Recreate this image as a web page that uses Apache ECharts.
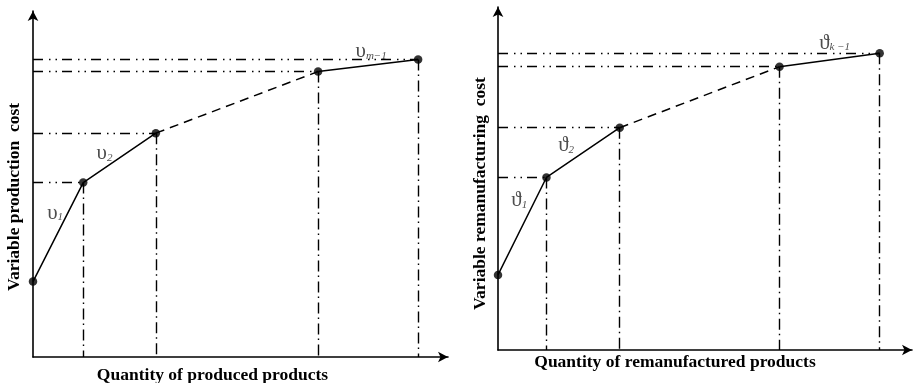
<!DOCTYPE html>
<html>
<head>
<meta charset="utf-8">
<script src="https://cdn.jsdelivr.net/npm/echarts@6/dist/echarts.min.js"></script>
<style>html,body{margin:0;padding:0;background:#fff;}#c{width:914px;height:383px;}</style>
</head>
<body>
<div id="c"></div>
<script>
// Breakpoints of the piecewise-linear cost curves (axis units 0-100)
const xProduced = [0, 12.1, 29.6, 68.7, 92.8];
const yProductionCost = [21.8, 50.4, 64.7, 82.5, 86.0];
const xRemanufactured = [0, 11.7, 29.4, 68.0, 92.2];
const yRemanufacturingCost = [21.9, 50.3, 64.8, 82.6, 86.5];
const xTitles = ['Quantity of produced products', 'Quantity of remanufactured products'];
const yTitles = ['Variable production  cost', 'Variable remanufacturing  cost'];
// slope labels: segment index -> rich text
const slopeSegmentsLeft = [0, 1, 3];
const slopeTextLeft = ['{v|υ}{s|1}', '{v|υ}{s|2}', '{v|υ}{s|m−1}'];
const slopeSegmentsRight = [0, 1, 3];
const slopeTextRight = ['{v|ϑ}{s|1}', '{v|ϑ}{s|2}', '{v|ϑ}{s|k −1}'];

const SERIF = '"Liberation Serif","DejaVu Serif",serif';
const grids = [
  {left: 33, top: 11, width: 415, height: 346, outerBoundsMode: 'none', containLabel: false},
  {left: 498, top: 7, width: 414, height: 343, outerBoundsMode: 'none', containLabel: false}
];
const labelOffsets = [
  [[-3, -19], [-15, -4], [3, -14]],
  [[-3, -26], [-17, -7], [5, -17]]
];
const yNamePad = [[0, 26, 0, 0], [0, 30, 0, 0]];
const xNamePad = [[0, 56, 0, 0], [0, 60, 0, 0]];
const xNameGap = [9, 3];
const yNameGap = [10, 9];

const panels = [
  {xs: xProduced, ys: yProductionCost, segs: slopeSegmentsLeft, texts: slopeTextLeft},
  {xs: xRemanufactured, ys: yRemanufacturingCost, segs: slopeSegmentsRight, texts: slopeTextRight}
];

const hDash = [10, 6, 1.5, 5, 1.5, 5];
const vDash = [11, 4, 1.5, 4.5];

const xAxes = [], yAxes = [], series = [];
panels.forEach((p, i) => {
  const axisCommon = {
    min: 0, max: 100, type: 'value', gridIndex: i,
    axisTick: {show: false}, axisLabel: {show: false}, splitLine: {show: false},
    axisLine: {show: true, symbol: ['none', 'arrow'], symbolSize: [8, 10],
      lineStyle: {color: '#000', width: 1.6}},
    nameLocation: 'middle'
  };
  xAxes.push(Object.assign({}, axisCommon, {
    name: xTitles[i], nameGap: xNameGap[i],
    nameTextStyle: {fontFamily: SERIF, fontWeight: 'bold', fontSize: 17.5, color: '#000',
      padding: xNamePad[i], verticalAlign: 'top'}
  }));
  yAxes.push(Object.assign({}, axisCommon, {
    name: yTitles[i], nameGap: yNameGap[i],
    nameTextStyle: {fontFamily: SERIF, fontWeight: 'bold', fontSize: 17.5, color: '#000',
      padding: yNamePad[i]}
  }));
  const pts = p.xs.map((x, k) => [x, p.ys[k]]);
  const guides = [];
  for (let k = 1; k < pts.length; k++) {
    guides.push([{coord: [0, pts[k][1]], lineStyle: {type: hDash}}, {coord: pts[k]}]);
    guides.push([{coord: pts[k], lineStyle: {type: vDash}}, {coord: [pts[k][0], 0]}]);
  }
  const lineBase = {type: 'line', xAxisIndex: i, yAxisIndex: i, symbol: 'none',
    silent: true, animation: false};
  series.push(Object.assign({}, lineBase, {data: pts.slice(0, 3),
    lineStyle: {color: '#000', width: 1.5}}));
  series.push(Object.assign({}, lineBase, {data: pts.slice(2, 4),
    lineStyle: {color: '#000', width: 1.5, type: [9, 6]}}));
  series.push(Object.assign({}, lineBase, {data: pts.slice(3, 5),
    lineStyle: {color: '#000', width: 1.5}}));
  series.push({type: 'scatter', xAxisIndex: i, yAxisIndex: i, data: pts,
    symbol: 'circle', symbolSize: 8.5, itemStyle: {color: '#000'}, silent: true, animation: false, z: 5,
    markLine: {silent: true, symbol: 'none', animation: false, label: {show: false},
      lineStyle: {color: '#000', width: 1.4, opacity: 1}, data: guides}});
  const labelData = p.segs.map((s, k) => ({
    value: [(pts[s][0] + pts[s + 1][0]) / 2, (pts[s][1] + pts[s + 1][1]) / 2],
    label: {show: true, position: 'inside', formatter: p.texts[k], offset: labelOffsets[i][k],
      rich: {
        v: {fontFamily: SERIF, fontSize: 21, color: '#222'},
        s: {fontFamily: SERIF, fontStyle: 'italic', fontSize: 11, color: '#222', padding: [9, 0, 0, 0]}
      }}
  }));
  series.push({type: 'scatter', xAxisIndex: i, yAxisIndex: i, data: labelData,
    symbolSize: 1, itemStyle: {color: 'rgba(0,0,0,0)'}, silent: true, animation: false, z: 6});
});

const chart = echarts.init(document.getElementById('c'), null, {renderer: 'canvas'});
chart.setOption({
  backgroundColor: '#fff',
  animation: false,
  grid: grids,
  xAxis: xAxes,
  yAxis: yAxes,
  series: series
});
</script>
</body>
</html>
